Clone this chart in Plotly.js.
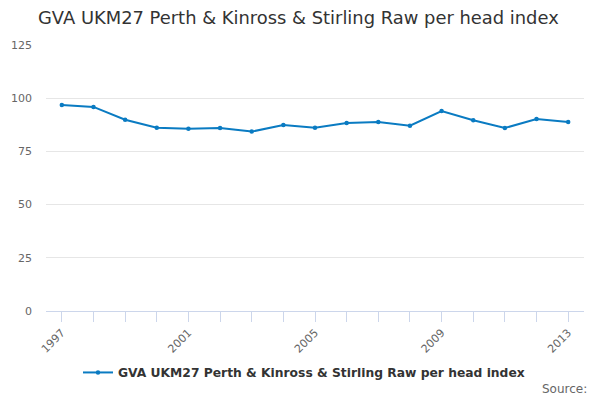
<!DOCTYPE html>
<html>
<head>
<meta charset="utf-8">
<script src="https://cdn.plot.ly/plotly-3.0.1.min.js"></script>
<style>
  html, body { margin: 0; padding: 0; background: #fff; }
  #chart { width: 600px; height: 400px; }
</style>
</head>
<body>
<div id="chart"></div>
<script>
// 年ごとの値
const years = [1997, 1998, 1999, 2000, 2001, 2002, 2003, 2004, 2005,
               2006, 2007, 2008, 2009, 2010, 2011, 2012, 2013]
const gvaIndex = [96.8, 95.9, 89.9, 86.1, 85.7, 86.0, 84.3, 87.4, 86.1,
                  88.3, 88.8, 87.1, 94.0, 89.6, 86.0, 90.2, 88.8]
const seriesName = "GVA UKM27 Perth & Kinross & Stirling Raw per head index"
const chartTitle = "GVA UKM27 Perth & Kinross & Stirling Raw per head index"
// 目盛りは毎年、ラベルは4年おき
const tickLabels = years.map((y) => ((y - 1997) % 4 === 0 ? String(y) : ""))

const font = "'DejaVu Sans', Verdana, sans-serif"

Plotly.newPlot("chart", [ {
  x: years,
  y: gvaIndex,
  name: seriesName,
  type: "scatter",
  mode: "lines+markers",
  line: { color: "#0a7bc2", width: 2 },
  marker: { color: "#0a7bc2", size: 4.5 },
  hovertemplate: "%{x}: %{y}<extra></extra>"
} ], {
  width: 600,
  height: 400,
  paper_bgcolor: "#fff",
  plot_bgcolor: "#fff",
  font: { family: font, size: 11, color: "#666" },
  margin: { l: 46, r: 16, t: 45, b: 88.5 },
  title: {
    text: chartTitle,
    font: { family: font, size: 17.9, color: "#333" },
    xref: "container", yref: "container",
    x: 38 / 600, xanchor: "left",
    y: 1 - 18 / 400, yanchor: "middle"
  },
  xaxis: {
    range: [1996.5, 2013.5],
    tickvals: years,
    ticktext: tickLabels,
    tickangle: -45,
    ticks: "outside",
    ticklen: 10,
    tickcolor: "#ccd6eb",
    showline: true,
    linecolor: "#ccd6eb",
    linewidth: 1,
    showgrid: false,
    zeroline: false,
    tickfont: { family: font, size: 11, color: "#666" }
  },
  yaxis: {
    range: [0, 125],
    dtick: 25,
    gridcolor: "#e6e6e6",
    zeroline: false,
    showline: false,
    ticks: "",
    ticklen: 0,
    ticklabelstandoff: 13,
    tickfont: { family: font, size: 11, color: "#666" }
  },
  showlegend: true,
  legend: {
    orientation: "h",
    x: 0.5 - 11 / 538, xanchor: "center",
    y: -0.231, yanchor: "middle",
    itemwidth: 30,
    font: { family: font, size: 12.3, color: "#333", weight: "bold" }
  },
  annotations: [ {
    text: "Source:",
    xref: "paper", yref: "paper",
    x: 1.009, xanchor: "right",
    y: -0.295, yanchor: "middle",
    showarrow: false,
    font: { family: font, size: 12, color: "#666" }
  } ]
}, { displayModeBar: false, staticPlot: true })
</script>
</body>
</html>
